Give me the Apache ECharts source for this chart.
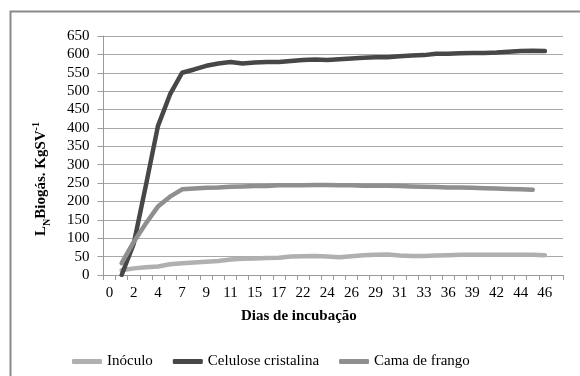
<!DOCTYPE html>
<html>
<head>
<meta charset="utf-8">
<script src="https://cdn.jsdelivr.net/npm/echarts@6/dist/echarts.min.js"></script>
<style>
html,body{margin:0;padding:0;background:#fff;}
#c{width:580px;height:376px;}
</style>
</head>
<body>
<div id="c"></div>
<script>
const days = ['0','1','2','3','4','6','7','8','9','10','11','13','15','16','17','20','22','23','24','25','26','28','29','30','31','32','33','35','36','38','39','41','42','43','44','45','46','48'];
const inoculo = [null, 13, 18, 21, 23, 29, 32, 34, 36, 38, 42, 44, 45, 46, 47, 50, 51, 52, 50, 48, 51, 54, 55, 56, 53, 52, 52, 53, 54, 55, 55, 55, 55, 55, 55, 55, 54, null];
const celulose = [null, 0, 85, 243, 405, 491, 550, 559, 569, 575, 579, 575, 578, 579, 579, 582, 585, 586, 585, 587, 589, 591, 592, 592, 595, 597, 598, 602, 602, 603, 604, 604, 605, 607, 609, 610, 609, null];
const cama = [null, 32, 90, 140, 186, 213, 233, 235, 237, 238, 240, 241, 242, 242, 244, 244, 244, 245, 245, 244, 244, 243, 243, 243, 242, 241, 240, 239, 238, 238, 237, 236, 235, 234, 233, 232, null, null];
const seriesNames = ['Inóculo', 'Celulose cristalina', 'Cama de frango'];
const yTicks = {min: 0, max: 650, step: 50};

const FONT = '"Liberation Serif","Times New Roman",serif';
const colors = ['#b0b0b0', '#474747', '#8f8f8f'];
const chart = echarts.init(document.getElementById('c'), null, {renderer: 'canvas'});
const mk = (name, data, i) => ({
  name: name, type: 'line', data: data, symbol: 'none', smooth: false,
  connectNulls: false,
  lineStyle: {color: colors[i], width: 4.5, cap: 'round', join: 'round'},
  itemStyle: {color: colors[i]}
});
chart.setOption({
  animation: false,
  backgroundColor: '#fff',
  grid: {left: 103.5, right: 17, top: 36, bottom: 101},
  xAxis: {
    type: 'category', data: days, boundaryGap: true,
    axisLine: {lineStyle: {color: '#9a9a9a', width: 1}},
    axisTick: {show: true, interval: 0, length: 5, lineStyle: {color: '#9a9a9a'}},
    axisLabel: {interval: 1, color: '#000', fontFamily: FONT, fontSize: 15, margin: 11},
    splitLine: {show: false}
  },
  yAxis: {
    type: 'value', min: yTicks.min, max: yTicks.max, interval: yTicks.step,
    axisLine: {show: true, lineStyle: {color: '#9a9a9a', width: 1}},
    axisTick: {show: true, length: 6, lineStyle: {color: '#9a9a9a'}},
    axisLabel: {color: '#000', fontFamily: FONT, fontSize: 15, margin: 14},
    splitLine: {show: true, lineStyle: {color: '#a8a8a8', width: 1}}
  },
  legend: {
    left: 67, top: 349,
    itemWidth: 30, itemHeight: 5, itemGap: 20,
    icon: 'roundRect',
    textStyle: {color: '#000', fontFamily: FONT, fontSize: 15},
    data: seriesNames
  },
  graphic: [
    {type: 'rect', silent: true, shape: {x: 10.5, y: 11.5, width: 600, height: 400},
     style: {fill: 'none', stroke: '#8a8a8a', lineWidth: 2}, z: -1},
    {type: 'text', left: 241, top: 309,
     style: {text: 'Dias de incubação', fill: '#000', font: 'bold 15px ' + FONT}},
    {type: 'text', x: 40, y: 179, rotation: Math.PI / 2,
     style: {
       text: '{m|L}{s|N}{m|Biogás. KgSV}{p|-1}',
       align: 'center', verticalAlign: 'middle',
       rich: {
         m: {font: 'bold 15px ' + FONT, fill: '#000', verticalAlign: 'bottom', lineHeight: 18},
         s: {font: 'bold 10px ' + FONT, fill: '#000', verticalAlign: 'bottom', lineHeight: 18, padding: [0, 0, -3, 0]},
         p: {font: 'bold 10px ' + FONT, fill: '#000', verticalAlign: 'top', lineHeight: 18}
       }
     }}
  ],
  series: [mk(seriesNames[0], inoculo, 0), mk(seriesNames[1], celulose, 1), mk(seriesNames[2], cama, 2)]
});
</script>
</body>
</html>
